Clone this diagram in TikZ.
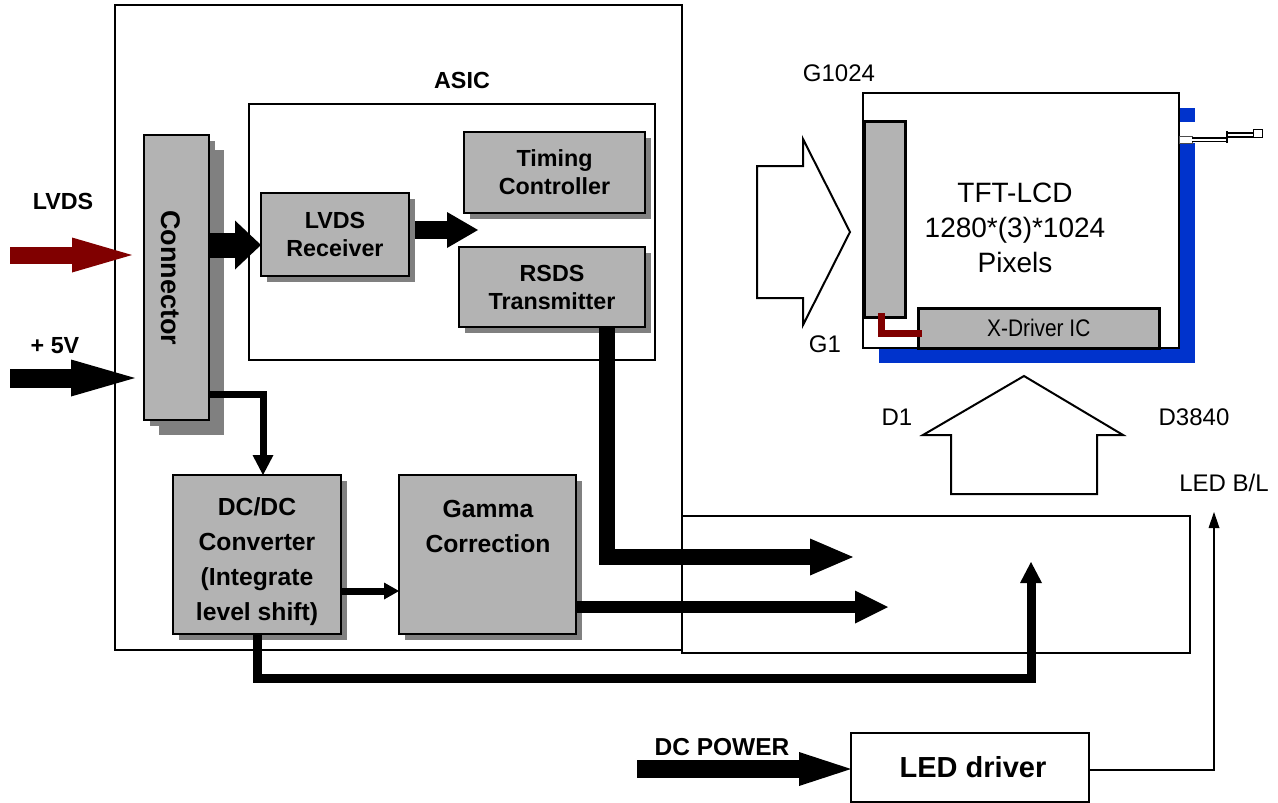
\documentclass[tikz,border=0pt]{standalone}
\usepackage{fontspec}
\setmainfont{Liberation Sans}
\newfontfamily\narrowfont[FakeStretch=0.87]{Liberation Sans}
\usetikzlibrary{arrows.meta,shadows}
\definecolor{boxgray}{RGB}{179,179,179}
\definecolor{shadowgray}{RGB}{128,128,128}
\definecolor{darkred}{RGB}{128,0,0}
\definecolor{lcdblue}{RGB}{0,51,204}
\newcommand{\bl}{\bfseries\fontsize{23.3}{28}\selectfont}
\newcommand{\blw}{\bfseries\fontsize{24.7}{35}\selectfont}
\newcommand{\rg}{\fontsize{24}{30}\selectfont}
\begin{document}
\begin{tikzpicture}[x=1pt,y=-1pt,
  frame/.style={draw, line width=1.5pt, inner sep=0pt, outer sep=0pt, anchor=north west},
  gbox/.style={draw, line width=2.5pt, fill=boxgray, inner sep=0pt, outer sep=0pt, anchor=north west,
    general shadow={fill=shadowgray, shadow xshift=6pt, shadow yshift=-6pt}},
  lbl/.style={inner sep=0pt, font=\bl, align=center},
  rlbl/.style={inner sep=0pt, font=\rg},
  hollow/.style={draw, line width=2pt, fill=white, line join=miter},
]
\path[use as bounding box] (0,0) rectangle (1278,803);

% ASIC outer and inner frames
\node[frame, minimum width=567pt, minimum height=645pt] (asic) at (115,5) {};
\node[lbl] (asiclbl) at (462,80) {ASIC};
\node[frame, minimum width=406pt, minimum height=256pt] (inner) at (249,104) {};

% bottom right panel
\node[frame, minimum width=508pt, minimum height=137pt] (panel) at (682,516) {};

% gray blocks
\node[gbox, minimum width=181pt, minimum height=81pt, lbl] (timing) at (464,132) {Timing\\Controller};
\node[gbox, minimum width=148pt, minimum height=83pt, lbl] (recv) at (261,193) {LVDS\\Receiver};
\node[gbox, minimum width=186pt, minimum height=80pt, lbl] (rsds) at (459,247) {RSDS\\Transmitter};
\node[gbox, minimum width=65pt, minimum height=285pt,
  general shadow={fill=shadowgray, shadow xshift=15pt, shadow yshift=-15pt}] (conn) at (144,135) {};
\node[rotate=-90, lbl, font=\bfseries\fontsize{27}{30}\selectfont] (connlbl) at (171,278) {Connector};
\node[gbox, minimum width=168pt, minimum height=159pt] (dcdc) at (173,475) {};
\node[lbl, font=\blw] (dcdclbl) at (257,562) {DC/DC\\Converter\\(Integrate\\level shift)};
\node[gbox, minimum width=177pt, minimum height=159pt] (gamma) at (399,475) {};
\node[lbl, font=\blw] (gammalbl) at (488,526) {Gamma\\Correction};

% LCD panel
\fill[lcdblue] (1179,108) rectangle (1195,122);
\fill[lcdblue] (1179,143) rectangle (1195,363);
\fill[lcdblue] (879,345) rectangle (1195,363);
\node[frame, line width=2.5pt, fill=white, minimum width=316pt, minimum height=255pt] (lcd) at (863,93) {};
\node[draw, line width=2.5pt, fill=boxgray, inner sep=0pt, anchor=north west, minimum width=41pt, minimum height=196pt] (ydrv) at (863,120) {};
\node[draw, line width=2.5pt, fill=boxgray, inner sep=0pt, anchor=north west, minimum width=241pt, minimum height=40pt, font=\narrowfont\fontsize{24}{30}\selectfont] (xdrv) at (917,307) {X-Driver IC};
\draw[darkred, line width=7pt, line join=miter] (881,313) -- (881,333) -- (922,333);
\node[inner sep=0pt, align=center, font=\fontsize{28}{35}\selectfont] (tft) at (1015,228) {TFT-LCD\\1280*(3)*1024\\Pixels};

% cable with plug
\draw[gray!60!black, line width=0.8pt, fill=white] (1179,136) rectangle (1192,143);
\draw[black, line width=4.5pt] (1192,139.5) -- (1227,139.5);
\draw[white, line width=2pt] (1192,139.5) -- (1227,139.5);
\draw[black, line width=1.5pt] (1227,131) -- (1227,143);
\draw[black, line width=6pt] (1227,134.5) -- (1253,134.5);
\draw[white, line width=2pt] (1228,134.5) -- (1253,134.5);
\draw[black, line width=1pt, fill=white] (1253,129) rectangle (1262,137);

% hollow scan arrows
\draw[hollow] (757,166) -- (803,166) -- (803,139) -- (850,232) -- (803,325) -- (803,298) -- (757,298) -- cycle;
\draw[hollow] (951,494) -- (951,435) -- (923,435) -- (1024,376) -- (1123,435) -- (1097,435) -- (1097,494) -- cycle;

% small labels
\node[rlbl] (g1024) at (839,73) {G1024};
\node[rlbl] (g1) at (825,344) {G1};
\node[rlbl] (d1) at (897,417) {D1};
\node[rlbl] (d3840) at (1194,417) {D3840};
\node[rlbl] (ledbl) at (1224,483) {LED B/L};

% external inputs
\node[lbl] (lvdslbl) at (63,201) {LVDS};
\node[lbl] (fivelbl) at (55,346) {+ 5V};
\coordinate (lvdsin) at (10,255);
\coordinate (fivein) at (10,378);
\draw[darkred, line width=17pt, -{Triangle[length=60pt,width=35pt,line width=0pt]}] (lvdsin) -- (132,255);
\draw[black, line width=19pt, -{Triangle[length=64pt,width=37pt,line width=0pt]}] (fivein) -- (135,378);

% internal thick arrows
\draw[line width=25pt, -{Triangle[length=26pt,width=49pt,line width=0pt]}] (conn.east |- 0,245) -- (recv.west |- 0,245);
\draw[line width=18pt, -{Triangle[length=31pt,width=36pt,line width=0pt]}] (415,230) -- (478,230);
\draw[line width=16pt, line join=miter, -{Triangle[length=43pt,width=37pt,line width=0pt]}] (rsds.south -| 607,0) -- (607,557) -- (853,557);
\draw[line width=12pt, -{Triangle[length=33pt,width=33pt,line width=0pt]}] (gamma.east |- 0,607) -- (888,607);
\draw[line width=7pt, -{Triangle[length=15pt,width=17pt,line width=0pt]}] (dcdc.east |- 0,591) -- (gamma.west |- 0,591);
\draw[line width=7pt, line join=miter, -{Triangle[length=20pt,width=21pt,line width=0pt]}] (conn.east |- 0,394) -- (263,394) -- (dcdc.north -| 263,0);
\draw[line width=9pt, line join=miter, -{Triangle[length=21pt,width=22pt,line width=0pt]}] (dcdc.south -| 257,0) -- (257,678) -- (1031,678) -- (1031,562);

% LED driver
\node[frame, line width=2pt, minimum width=238pt, minimum height=69pt] (led) at (851,733) {};
\node[inner sep=0pt, font=\bfseries\fontsize{29}{35}\selectfont] (ledlbl) at (973,767) {LED driver};
\node[lbl, font=\bfseries\fontsize{24.5}{30}\selectfont] (dclbl) at (722,747) {DC POWER};
\coordinate (dcin) at (637,769);
\draw[line width=18pt, -{Triangle[length=52pt,width=34pt,line width=0pt]}] (dcin) -- (led.west |- 0,769);
\draw[line width=1.5pt, -{Triangle[length=16pt,width=11pt,line width=0pt]}] (led.east |- 0,770) -- (1214,770) -- (1214,512);
\end{tikzpicture}
\end{document}
